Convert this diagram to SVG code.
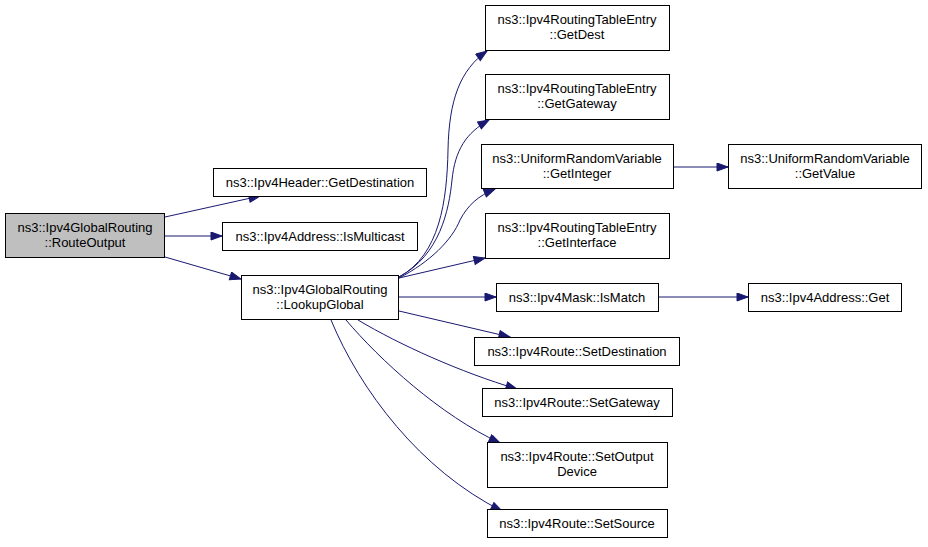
<svg xmlns="http://www.w3.org/2000/svg" width="928" height="547" viewBox="0 0 928 547">
<defs>
<style>
.n rect{fill:#ffffff;stroke:#000000;stroke-width:1}
.n.hl rect{fill:#bfbfbf}
.n text{font-family:"Liberation Sans",Arial,sans-serif;font-size:13px;fill:#000000;text-anchor:middle}
.e path{fill:none;stroke:#191970;stroke-width:1;marker-end:url(#ah)}
</style>
<marker id="ah" markerUnits="userSpaceOnUse" markerWidth="13" markerHeight="10" refX="12" refY="4.5" orient="auto">
<path d="M1,0.5 L12,4.5 L1,8.5 Z" fill="#191970" stroke="#191970" stroke-width="1"/>
</marker>
</defs>
<rect width="928" height="547" fill="#ffffff"/>
<g id="edges" class="e">
<path d="M165,217 L260,196"/>
<path d="M165,236 L222,236"/>
<path d="M165,257 L241,279"/>
<path d="M399,277 C440,255 447,200 448,150 C449,100 460,70 487,51"/>
<path d="M399,277 C440,255 449,210 452,180 C455,150 466,133 489,120"/>
<path d="M399,278 C430,262 452,240 460,220 C468,205 478,196 495,189"/>
<path d="M399,278 L485,258"/>
<path d="M399,297 L496,297"/>
<path d="M399,311 L510,337"/>
<path d="M358,320 C400,345 460,372 517,389"/>
<path d="M346,320 C380,360 440,415 500,443"/>
<path d="M331,320 C360,390 420,470 502,511"/>
<path d="M674,167 L728,167"/>
<path d="M659,297 L748,297"/>
</g>
<g id="RouteOutput" class="n hl"><rect x="5.5" y="213.5" width="159" height="44"/><text x="85" y="232">ns3::Ipv4GlobalRouting</text><text x="85" y="247">::RouteOutput</text></g>
<g id="GetDestination" class="n"><rect x="213.5" y="168.5" width="213" height="28"/><text x="320" y="187">ns3::Ipv4Header::GetDestination</text></g>
<g id="IsMulticast" class="n"><rect x="222.5" y="222.5" width="195" height="28"/><text x="320" y="241">ns3::Ipv4Address::IsMulticast</text></g>
<g id="LookupGlobal" class="n"><rect x="241.5" y="275.5" width="157" height="44"/><text x="320" y="294">ns3::Ipv4GlobalRouting</text><text x="320" y="309">::LookupGlobal</text></g>
<g id="GetDest" class="n"><rect x="485.5" y="5.5" width="184" height="45"/><text x="577" y="24">ns3::Ipv4RoutingTableEntry</text><text x="577" y="39">::GetDest</text></g>
<g id="GetGateway" class="n"><rect x="485.5" y="74.5" width="184" height="45"/><text x="577" y="93">ns3::Ipv4RoutingTableEntry</text><text x="577" y="108">::GetGateway</text></g>
<g id="GetInteger" class="n"><rect x="481.5" y="144.5" width="192" height="44"/><text x="577" y="163">ns3::UniformRandomVariable</text><text x="577" y="178">::GetInteger</text></g>
<g id="GetValue" class="n"><rect x="728.5" y="144.5" width="193" height="44"/><text x="825" y="163">ns3::UniformRandomVariable</text><text x="825" y="178">::GetValue</text></g>
<g id="GetInterface" class="n"><rect x="485.5" y="213.5" width="184" height="45"/><text x="577" y="232">ns3::Ipv4RoutingTableEntry</text><text x="577" y="247">::GetInterface</text></g>
<g id="IsMatch" class="n"><rect x="496.5" y="283.5" width="162" height="28"/><text x="577" y="302">ns3::Ipv4Mask::IsMatch</text></g>
<g id="AddrGet" class="n"><rect x="748.5" y="283.5" width="153" height="28"/><text x="825" y="302">ns3::Ipv4Address::Get</text></g>
<g id="SetDestination" class="n"><rect x="474.5" y="337.5" width="205" height="28"/><text x="577" y="356">ns3::Ipv4Route::SetDestination</text></g>
<g id="SetGateway" class="n"><rect x="482.5" y="388.5" width="190" height="28"/><text x="577" y="407">ns3::Ipv4Route::SetGateway</text></g>
<g id="SetOutputDevice" class="n"><rect x="487.5" y="442.5" width="180" height="45"/><text x="577" y="461">ns3::Ipv4Route::SetOutput</text><text x="577" y="476">Device</text></g>
<g id="SetSource" class="n"><rect x="487.5" y="509.5" width="180" height="28"/><text x="577" y="528">ns3::Ipv4Route::SetSource</text></g>
</svg>
